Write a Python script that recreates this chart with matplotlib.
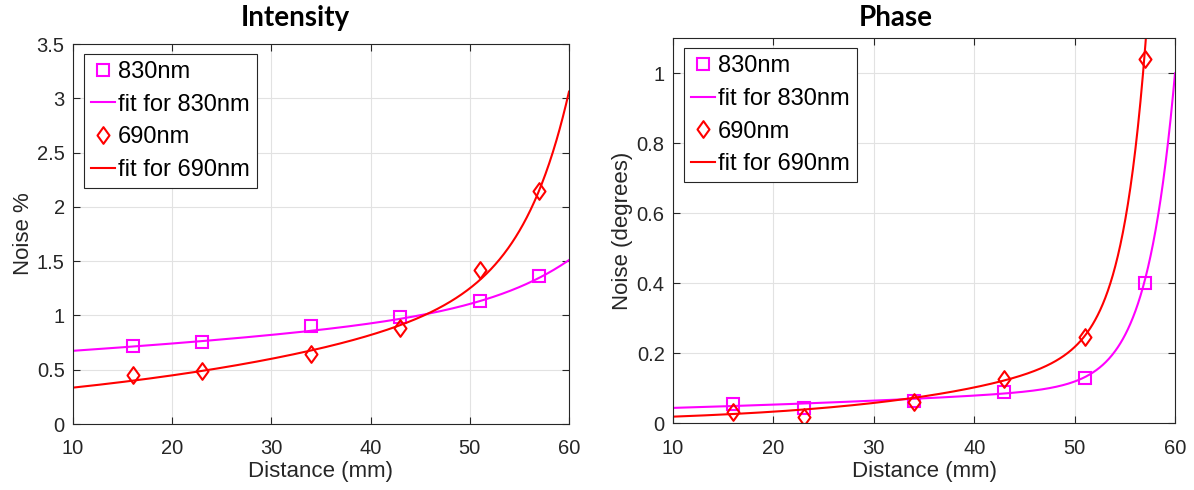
import numpy as np
import matplotlib
matplotlib.use("Agg")
import matplotlib.pyplot as plt
from matplotlib.path import Path
from matplotlib.ticker import FuncFormatter

# Source-detector distances (mm)
distance = [16, 23, 34, 43, 51, 57]

# Intensity noise (%)
int_830 = [0.718, 0.758, 0.905, 0.982, 1.135, 1.363]
int_690 = [0.448, 0.488, 0.642, 0.887, 1.418, 2.143]

# Phase noise (degrees)
phase_830 = [0.055, 0.045, 0.064, 0.089, 0.130, 0.402]
phase_690 = [0.033, 0.019, 0.060, 0.127, 0.246, 1.041]

# Two-term exponential fit coefficients: y = a*exp(b*x) + c*exp(d*x)
fit_int_830 = [0.614, 0.00918, 3.322e-4, 0.12]
fit_int_690 = [0.2507, 0.029, 3.022e-6, 0.22]
fit_phase_830 = [0.03628, 0.0193, 3.68e-10, 0.36]
fit_phase_690 = [0.01085, 0.056, 1.813e-11, 0.43]

MAGENTA = "#ff00ff"
RED = "#ff0000"
AX_COLOR = "#262626"

plt.rcParams["font.family"] = ["Liberation Sans", "DejaVu Sans"]

# MATLAB-style diamond (taller than wide)
diamond = Path([(0, 1), (0.72, 0), (0, -1), (-0.72, 0), (0, 1)],
               [Path.MOVETO, Path.LINETO, Path.LINETO, Path.LINETO, Path.CLOSEPOLY])


def exp2(coef, x):
    a, b, c, d = coef
    return a * np.exp(b * x) + c * np.exp(d * x)


def tick_fmt(v, _):
    return f"{v:g}"


W, H = 1194, 490
fig = plt.figure(figsize=(W / 100, H / 100), dpi=100)
ax1 = fig.add_axes([73 / W, 66 / H, 496 / W, 380 / H])
ax2 = fig.add_axes([673 / W, 66.7 / H, 502 / W, 385 / H])

xs = np.linspace(10, 60, 800)

# axes, title, title centre (px), y label, data, fits, y range, y ticks
panels = [
    (ax1, "Intensity", 295, "Noise %", int_830, int_690, fit_int_830, fit_int_690,
     (0, 3.5), np.arange(0, 3.51, 0.5)),
    (ax2, "Phase", 896, "Noise (degrees)", phase_830, phase_690, fit_phase_830,
     fit_phase_690, (0, 1.1), np.arange(0, 1.01, 0.2)),
]

for ax, title, title_x, ylabel, y830, y690, f830, f690, ylim, yticks in panels:
    ax.plot(distance, y830, linestyle="none", marker="s", markersize=8,
            markerfacecolor="none", markeredgecolor=MAGENTA, markeredgewidth=1.5,
            label="830nm")
    ax.plot(xs, exp2(f830, xs), color=MAGENTA, linewidth=1.5, label="fit for 830nm")
    ax.plot(distance, y690, linestyle="none", marker=diamond, markersize=12,
            markerfacecolor="none", markeredgecolor=RED, markeredgewidth=1.5,
            label="690nm")
    ax.plot(xs, exp2(f690, xs), color=RED, linewidth=1.5, label="fit for 690nm")

    ax.set_xlim(10, 60)
    ax.set_ylim(*ylim)
    ax.set_xticks(np.arange(10, 61, 10))
    ax.set_yticks(yticks)
    ax.yaxis.set_major_formatter(FuncFormatter(tick_fmt))
    ax.grid(True, color="#e2e2e2", linewidth=0.8)
    ax.set_axisbelow(True)
    ax.tick_params(direction="in", length=5, width=0.8, colors=AX_COLOR,
                   labelsize=14.5, top=True, right=True)
    ax.tick_params(axis="x", pad=11)
    ax.tick_params(axis="y", pad=6)
    for sp in ax.spines.values():
        sp.set_color(AX_COLOR)
        sp.set_linewidth(0.8)

    ax.set_xlabel("Distance (mm)", fontsize=16, color=AX_COLOR, va="center")
    ax.xaxis.set_label_coords(0.5, -0.125)
    ax.set_ylabel(ylabel, fontsize=16, color=AX_COLOR, va="center")
    ax.yaxis.set_label_coords(-0.100, 0.5)

    fig.text(title_x / W, 1 - 18 / H, title, ha="center", va="center",
             fontsize=20, fontweight="bold", family=["Lato", "DejaVu Sans"])

    pos = ax.get_position()
    bbox_px = pos.width * W, pos.height * H
    leg = ax.legend(loc="upper left",
                    bbox_to_anchor=(11 / bbox_px[0], 1 - 10 / bbox_px[1]),
                    fontsize=17, frameon=True, fancybox=False, edgecolor=AX_COLOR,
                    framealpha=1, borderpad=0.3, labelspacing=0.45, handlelength=1.0,
                    handletextpad=0.15, borderaxespad=0.0)
    leg.get_frame().set_linewidth(0.8)

fig.savefig("out.png", dpi=100)
